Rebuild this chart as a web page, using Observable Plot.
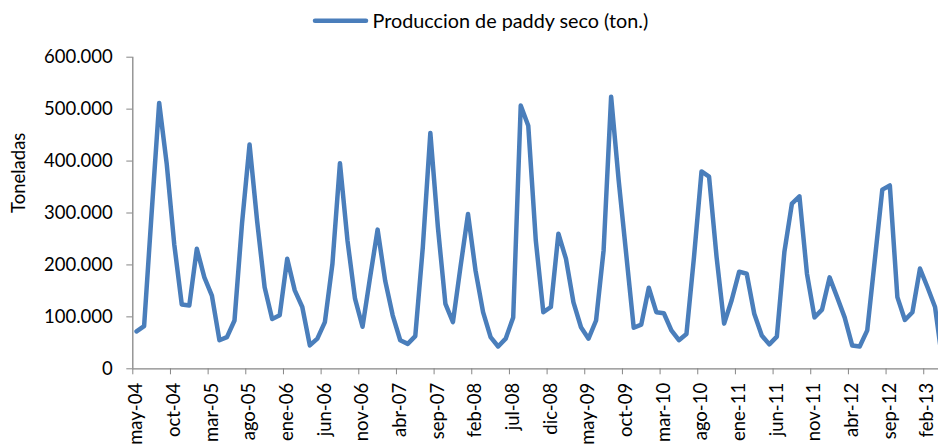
<!DOCTYPE html>
<html>
<head>
<meta charset="utf-8">
<script src="https://cdn.jsdelivr.net/npm/d3@7"></script>
<script src="https://cdn.jsdelivr.net/npm/@observablehq/plot@0.6"></script>
<style>
  body { margin: 0; background: #fff; }
  #legend svg, #chart svg { display: block; }
</style>
</head>
<body>
<div id="legend"></div>
<div id="chart"></div>
<script>
// Month abbreviations (Spanish) used to build the monthly categories may-04 … abr-13
const mesesAbrev = ["ene","feb","mar","abr","may","jun","jul","ago","sep","oct","nov","dic"];
const primerMes = 4;   // may (0-based)
const primerAnio = 4;  // 2004
const nMeses = 108;
const meses = [];
for (let k = 0; k < nMeses; k++) {
  const m = (primerMes + k) % 12;
  const a = primerAnio + Math.floor((primerMes + k) / 12);
  meses.push(mesesAbrev[m] + "-" + String(a).padStart(2, "0"));
}

// Producción de paddy seco (ton.), one value per month
const produccion = [
  72000, 82000, 300000, 512000, 395000, 240000, 124000, 122000,            // may-04 .. dic-04
  231000, 176000, 141000, 55000, 61000, 93000, 280000, 432000, 285000, 157000, 96000, 103000, // 2005
  212000, 151000, 119000, 45000, 58000, 90000, 202000, 396000, 247000, 135000, 81000, 176000, // 2006
  268000, 170000, 103000, 55000, 48000, 63000, 234000, 454000, 273000, 125000, 90000, 196000, // 2007
  298000, 189000, 109000, 61000, 43000, 58000, 99000, 507000, 468000, 247000, 109000, 119000, // 2008
  260000, 212000, 128000, 80000, 58000, 93000, 228000, 524000, 363000, 221000, 79000, 85000,  // 2009
  156000, 109000, 107000, 74000, 55000, 67000, 215000, 380000, 370000, 215000, 87000, 132000, // 2010
  187000, 183000, 106000, 64000, 47000, 62000, 225000, 318000, 332000, 183000, 99000, 114000, // 2011
  176000, 138000, 99000, 45000, 43000, 74000, 209000, 345000, 353000, 138000, 94000, 109000,  // 2012
  193000, 157000, 119000, 12000                                                              // ene-13 .. abr-13
];

// Tick labels shown on the x axis
const tickLabels = ["may-04","oct-04","mar-05","ago-05","ene-06","jun-06","nov-06","abr-07",
  "sep-07","feb-08","jul-08","dic-08","may-09","oct-09","mar-10","ago-10","ene-11","jun-11",
  "nov-11","abr-12","sep-12","feb-13"];

// Y axis ticks
const yTicks = [0, 100000, 200000, 300000, 400000, 500000, 600000];

const serieNombre = "Produccion de paddy seco (ton.)";
const yTitulo = "Toneladas";

const data = meses.map((mes, i) => ({ i, mes, valor: produccion[i] }));
const labelIdx = tickLabels.map(l => meses.indexOf(l));
const boundaries = labelIdx.map(i => i - 0.5);
const fmt = v => v === 0 ? "0" : d3.format(",")(v).replace(/,/g, ".");

const COLOR = "#4a7ebb";
const AXIS = "#868686";
const FONT = "Lato, 'Open Sans', sans-serif";

// Legend (above the chart)
const legend = d3.select("#legend").append("svg")
  .attr("width", 938).attr("height", 40);
legend.append("line")
  .attr("x1", 315).attr("x2", 366).attr("y1", 20.7).attr("y2", 20.7)
  .attr("stroke", COLOR).attr("stroke-width", 4.5).attr("stroke-linecap", "round");
legend.append("text")
  .attr("x", 372.5).attr("y", 28)
  .attr("font-family", FONT).attr("font-size", "19.8px").attr("fill", "#000")
  .text(serieNombre);

const chart = Plot.plot({
  width: 938,
  height: 408,
  marginLeft: 132.3,
  marginRight: 0,
  marginTop: 16.7,
  marginBottom: 79.7,
  style: { fontFamily: FONT, fontSize: "18.5px", color: "#000", background: "#fff", overflow: "hidden" },
  x: { type: "linear", domain: [-0.5, 106.46] },
  y: { domain: [0, 600000] },
  marks: [
    Plot.axisY({ ticks: yTicks, tickSize: 6, tickPadding: 14, tickFormat: fmt, stroke: AXIS, fill: "#000", label: null }),
    Plot.axisX({ ticks: boundaries, tickSize: 6, tickFormat: () => "", stroke: AXIS, label: null }),
    Plot.axisX({ ticks: labelIdx, tickSize: 0, tickPadding: 14, tickRotate: -90, tickFormat: i => meses[i], fill: "#000", label: null }),
    Plot.ruleX([-0.5], { stroke: AXIS, strokeWidth: 1.3 }),
    Plot.ruleY([0], { stroke: AXIS, strokeWidth: 1.3 }),
    Plot.line(data, { x: "i", y: "valor", stroke: COLOR, strokeWidth: 4.5, strokeLinejoin: "round", strokeLinecap: "round", clip: true }),
    Plot.text([yTitulo], { text: d => d, frameAnchor: "left", dx: -114, rotate: -90, fill: "#000", fontSize: 18.5 })
  ]
});
document.getElementById("chart").appendChild(chart);
</script>
</body>
</html>
